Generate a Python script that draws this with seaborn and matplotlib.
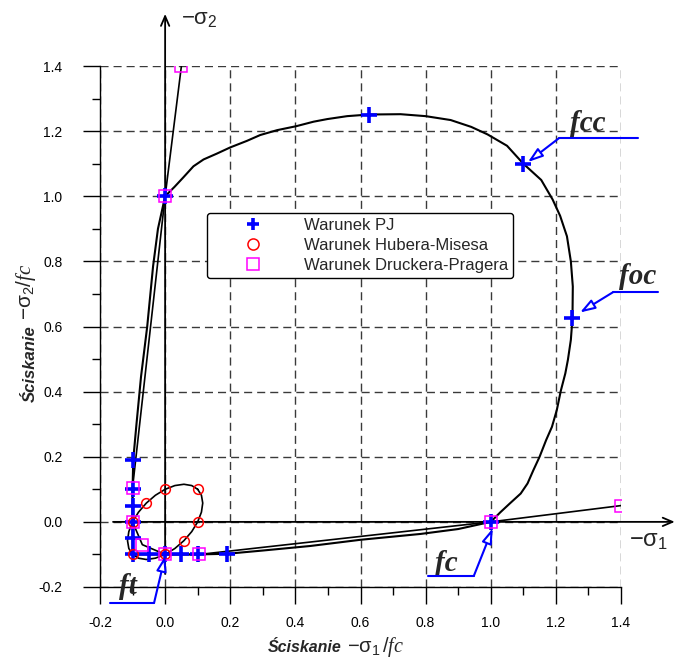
import numpy as np
import pandas as pd
import matplotlib
matplotlib.use("Agg")
import matplotlib.pyplot as plt
import seaborn as sns
from matplotlib.ticker import FixedLocator, FormatStrFormatter

# ---------------- data ----------------
# PJ failure curve (closed)
pj_curve_x = [0.0, 0.029, 0.056, 0.087, 0.118, 0.159, 0.2, 0.251, 0.292, 0.344, 0.402,
              0.456, 0.498, 0.559, 0.626, 0.723, 0.80, 0.877, 0.94, 0.99, 1.05, 1.1,
              1.155, 1.19, 1.213, 1.234, 1.246, 1.252, 1.251, 1.246, 1.237, 1.229, 1.215,
              1.203, 1.188, 1.17, 1.15, 1.131, 1.113, 1.092, 1.058, 1.029, 1.0,
              0.9, 0.785, 0.6, 0.446, 0.3, 0.19, 0.1, 0.0, -0.1,
              -0.1, -0.1, -0.098, -0.088, -0.074, -0.055, -0.037, -0.022, 0.0]
pj_curve_y = [1.0, 1.029, 1.058, 1.092, 1.113, 1.131, 1.15, 1.17, 1.188, 1.203, 1.215,
              1.229, 1.237, 1.246, 1.251, 1.252, 1.246, 1.234, 1.213, 1.19, 1.155, 1.1,
              1.05, 0.99, 0.94, 0.877, 0.80, 0.723, 0.626, 0.559, 0.498, 0.456, 0.402,
              0.344, 0.292, 0.251, 0.2, 0.159, 0.118, 0.087, 0.056, 0.029, 0.0,
              -0.022, -0.037, -0.055, -0.074, -0.088, -0.098, -0.1, -0.1, -0.1,
              0.0, 0.1, 0.19, 0.3, 0.446, 0.6, 0.785, 0.9, 1.0]
# PJ marker points
pj_x = [0.0, 0.625, 1.1, 1.25, 1.0, -0.1, -0.1, -0.1, -0.1, -0.1, -0.1, -0.05, 0.0, 0.05, 0.1, 0.19]
pj_y = [1.0, 1.25, 1.1, 0.625, 0.0, 0.19, 0.1, 0.05, 0.0, -0.05, -0.1, -0.1, -0.1, -0.1, -0.1, -0.1]

# Huber-Mises ellipse (curve) and markers
hm_curve_x = [0.1, 0.0817, 0.0577, 0.0299, 0.0, -0.0299, -0.0577, -0.0817, -0.1, -0.1115,
              -0.1155, -0.1115, -0.1, -0.0817, -0.0577, -0.0299, 0.0, 0.0299, 0.0577, 0.0817,
              0.1, 0.1115, 0.1155, 0.1115, 0.1]
hm_curve_y = [0.1, 0.1115, 0.1155, 0.1115, 0.1, 0.0817, 0.0577, 0.0299, 0.0, -0.0299,
              -0.0577, -0.0817, -0.1, -0.1115, -0.1155, -0.1115, -0.1, -0.0817, -0.0577, -0.0299,
              0.0, 0.0299, 0.0577, 0.0817, 0.1]
hm_x = [0.1, 0.0, -0.0577, -0.1, -0.1, 0.0, 0.0577, 0.1]
hm_y = [0.1, 0.1, 0.0577, 0.0, -0.1, -0.1, -0.0577, 0.0]

# Drucker-Prager points (curve runs through them in this order)
dp_x = [0.05, 0.0, -0.1, -0.1, -0.07, 0.0, 0.105, 1.0, 1.4]
dp_y = [1.4, 1.0, 0.105, 0.0, -0.07, -0.1, -0.1, 0.0, 0.05]

ticks = [-0.2, 0.0, 0.2, 0.4, 0.6, 0.8, 1.0, 1.2, 1.4]
minor_ticks = [-0.1, 0.1, 0.3, 0.5, 0.7, 0.9, 1.1, 1.3]

series_labels = ["Warunek PJ", "Warunek Hubera-Misesa", "Warunek Druckera-Pragera"]

# ---------------- styling ----------------
sns.set_style("white")
plt.rcParams["font.family"] = ["Liberation Sans", "DejaVu Sans"]
plt.rcParams["axes.unicode_minus"] = False
plt.rcParams["mathtext.fontset"] = "custom"
plt.rcParams["mathtext.rm"] = "Liberation Sans"
plt.rcParams["mathtext.it"] = "Liberation Serif:italic"
plt.rcParams["mathtext.bf"] = "Liberation Sans:bold"

W, H = 674, 662
fig = plt.figure(figsize=(W / 100, H / 100), dpi=100)
L, R, T, B = 100, 621, 66, 587
ax = fig.add_axes([L / W, 1 - B / H, (R - L) / W, (B - T) / H])

BLUE, RED, MAG = "#0000ff", "#ff0000", "#ff00ff"

# curves
sns.lineplot(x=pj_curve_x, y=pj_curve_y, sort=False, estimator=None, color="black",
             lw=1.5, ax=ax, zorder=3)
sns.lineplot(x=hm_curve_x, y=hm_curve_y, sort=False, estimator=None, color="black",
             lw=1.2, ax=ax, zorder=3)
sns.lineplot(x=dp_x, y=dp_y, sort=False, estimator=None, color="black",
             lw=1.2, ax=ax, zorder=3)

# markers
sns.lineplot(x=pj_x, y=pj_y, sort=False, estimator=None, ls="none", marker="+",
             ms=11, mew=2.6, mec=BLUE, mfc=BLUE, color=BLUE, ax=ax, zorder=5,
             label=series_labels[0])
sns.lineplot(x=hm_x, y=hm_y, sort=False, estimator=None, ls="none", marker="o",
             ms=7, mew=1.1, mfc="none", mec=RED, color=RED, ax=ax, zorder=6,
             label=series_labels[1])
sns.lineplot(x=dp_x, y=dp_y, sort=False, estimator=None, ls="none", marker="s",
             ms=9, mew=1.1, mfc="none", mec=MAG, color=MAG, ax=ax, zorder=6,
             label=series_labels[2])

ax.set_xlim(-0.2, 1.4)
ax.set_ylim(-0.2, 1.4)
for a in (ax.xaxis, ax.yaxis):
    a.set_major_locator(FixedLocator(ticks))
    a.set_minor_locator(FixedLocator(minor_ticks))
    a.set_major_formatter(FormatStrFormatter("%.1f"))
ax.tick_params(which="major", direction="out", length=12, width=1, labelsize=10,
               color="black", labelcolor="black")
ax.tick_params(which="minor", direction="out", length=6, width=1, color="black")
ax.tick_params(axis="y", which="major", pad=15)
ax.tick_params(axis="x", which="major", pad=9)
ax.tick_params(left=True, bottom=True, which="both")

ax.grid(True, which="major", ls=(0, (5.8, 3.6)), color="#3a3a3a", lw=1)
ax.set_axisbelow(True)
for s in ("top", "right"):
    ax.spines[s].set_visible(False)
for s in ("left", "bottom"):
    ax.spines[s].set_color("black")
    ax.spines[s].set_linewidth(1)
ax.set_xlabel("")
ax.set_ylabel("")

# axis arrows through the origin
arr = dict(arrowstyle="->,head_length=0.7,head_width=0.3", color="black", lw=1.3,
           shrinkA=0, shrinkB=0)
ax.annotate("", xy=(1.565, 0.0), xytext=(-0.16, 0.0), xycoords="data",
            arrowprops=arr, annotation_clip=False, zorder=4)
ax.annotate("", xy=(0.0, 1.56), xytext=(0.0, -0.16), xycoords="data",
            arrowprops=arr, annotation_clip=False, zorder=4)
ax.text(1.425, -0.06, r"$-\mathrm{\sigma}_1$", fontsize=17, ha="left", va="center",
        clip_on=False)
ax.text(0.05, 1.545, r"$-\mathrm{\sigma}_2$", fontsize=16, ha="left", va="center",
        clip_on=False)

# blue callouts
callouts = [
    ("fcc", (1.452, 1.178), (1.209, 1.178), (1.114, 1.105), (1.298, 1.222)),
    ("foc", (1.514, 0.705), (1.375, 0.705), (1.274, 0.643), (1.452, 0.755)),
    ("fc", (0.806, -0.166), (0.948, -0.166), (1.006, -0.02), (0.865, -0.127)),
    ("ft", (-0.169, -0.249), (-0.034, -0.249), (0.0, -0.105), (-0.115, -0.197)),
]
for txt, p0, p1, tip, tpos in callouts:
    ax.plot([p0[0], p1[0]], [p0[1], p1[1]], color=BLUE, lw=1.5, clip_on=False, zorder=7)
    ax.annotate("", xy=tip, xytext=p1,
                arrowprops=dict(arrowstyle="-|>,head_length=0.9,head_width=0.3",
                                fc="white", ec=BLUE, lw=1.5, shrinkA=0, shrinkB=0),
                annotation_clip=False, zorder=7)
    ax.text(tpos[0], tpos[1], txt, family="Liberation Serif", fontweight="bold",
            style="italic", fontsize=21, ha="center", va="center", clip_on=False)

# legend
leg = ax.legend(loc="upper left", bbox_to_anchor=((207 - L) / (R - L), (B - 213) / (B - T)),
                borderaxespad=0, fontsize=12, handlelength=4.9, handletextpad=0.6,
                labelspacing=0.3, borderpad=0.3, frameon=True, fancybox=True,
                framealpha=1, edgecolor="black")
leg.get_frame().set_linewidth(1.0)
for h in leg.legend_handles:
    h.set_markersize(8)

# axis labels
fig.text(268 / W, 1 - 652 / H, "Ściskanie", fontsize=11.5, fontweight="bold",
         style="italic", ha="left", va="baseline")
fig.text(347 / W, 1 - 652 / H, r"$-\mathrm{\sigma}_1\,/\mathit{fc}$", fontsize=14.5,
         ha="left", va="baseline")
fig.text(38 / W, 1 - 402 / H, "Ściskanie", fontsize=12, fontweight="bold",
         style="italic", ha="right", va="bottom", rotation=90)
fig.text(38 / W, 1 - 320 / H, r"$-\mathrm{\sigma}_2/\mathit{fc}$", fontsize=15,
         ha="right", va="bottom", rotation=90)

fig.savefig("out.png", dpi=100)
